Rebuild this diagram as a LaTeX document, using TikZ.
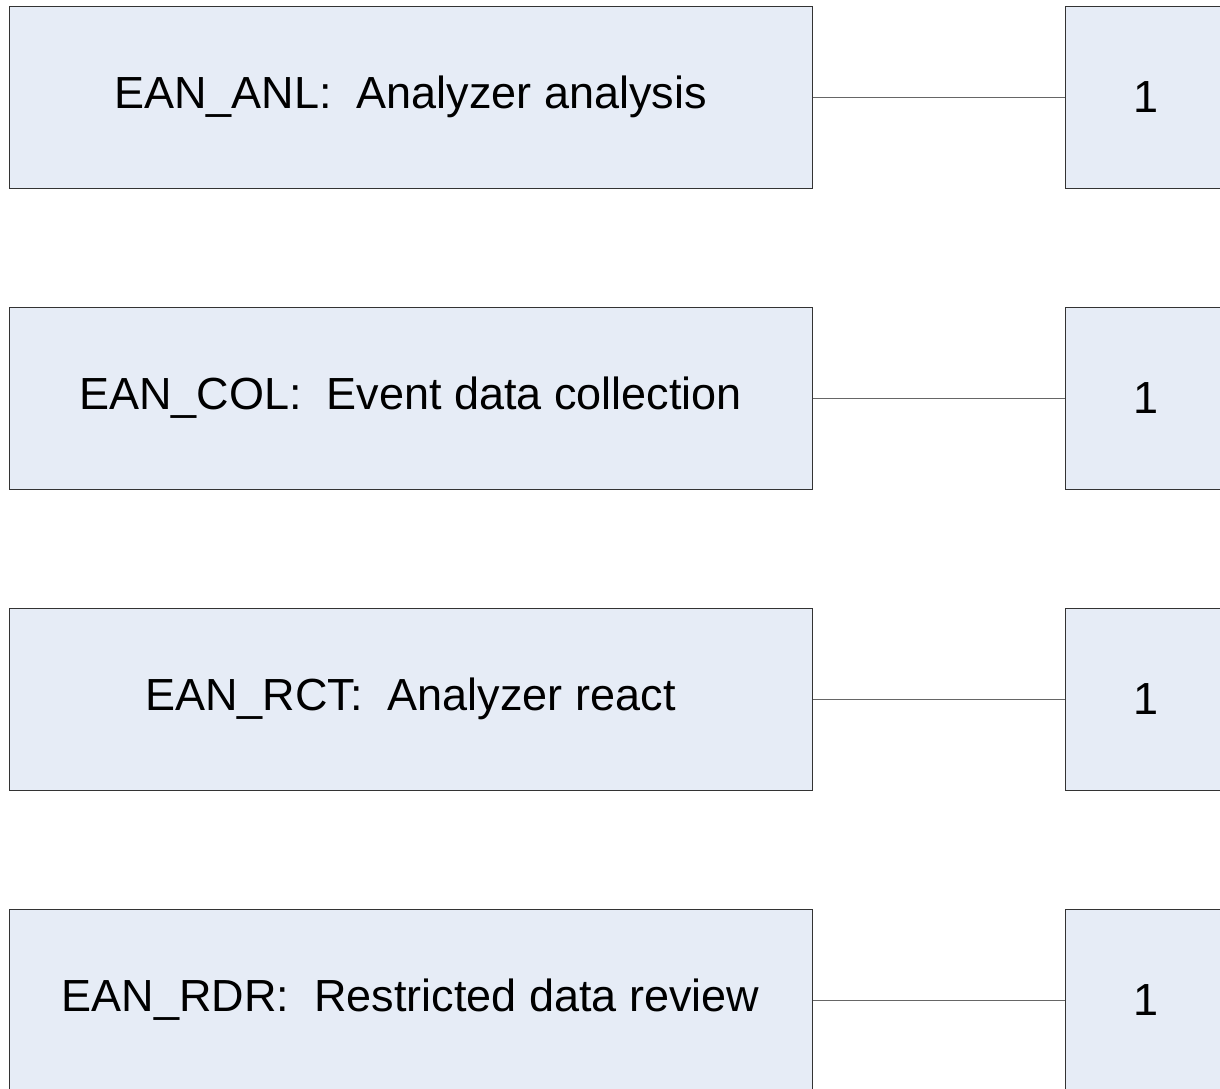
\documentclass[tikz,border=0pt]{standalone}
\usepackage{fontspec}
\setmainfont{Liberation Sans}
\usetikzlibrary{positioning}
\definecolor{boxfill}{HTML}{E6ECF6}
\begin{document}
\begin{tikzpicture}[x=1pt,y=-1pt,
        comp/.style={draw=black!80,fill=boxfill,line width=1pt,minimum width=803pt,minimum height=182pt,inner sep=0pt,font=\fontsize{45}{54}\selectfont},
        cnt/.style={comp,minimum width=162pt}]
    \useasboundingbox (0,0) rectangle (1220,1088);
    \foreach \nm/\txt [count=\i from 0] in {anl/{EAN\_ANL:\ \ Analyzer analysis},col/{EAN\_COL:\ \ Event data collection},rct/{EAN\_RCT:\ \ Analyzer react},rdr/{EAN\_RDR:\ \ Restricted data review}}
    {
        \node[comp] (\nm) at (410.5,97+301*\i) {\txt};
        \node[cnt,right=252pt of \nm] (\nm num) {1};
        \draw[black!60] (\nm) -- (\nm num);
    }
\end{tikzpicture}
\end{document}
